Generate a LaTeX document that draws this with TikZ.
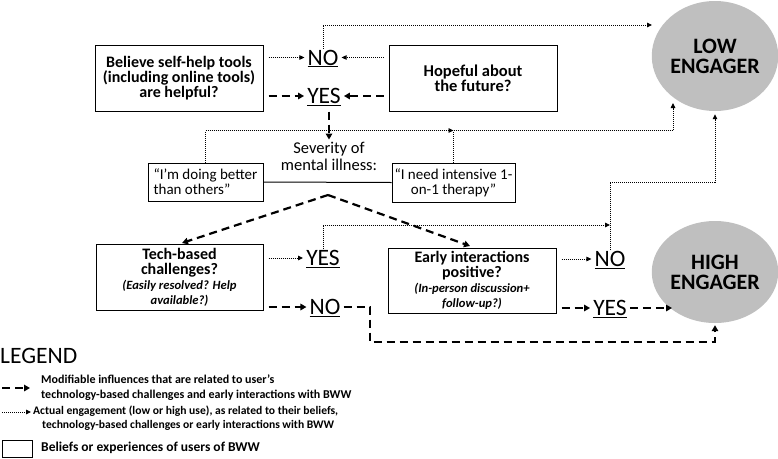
\documentclass[tikz,border=0pt]{standalone}
\usepackage{fontspec}
\setmainfont{Carlito}
\usetikzlibrary{arrows.meta,shapes.geometric}
\newcommand{\itf}{\bfseries\itshape\fontsize{12.6}{14}\selectfont}
\begin{document}
\begin{tikzpicture}[x=1pt,y=-1pt,
 box/.style={draw, line width=1pt, inner sep=0pt, align=center, font=\bfseries\fontsize{16}{15}\selectfont},
 qbox/.style={draw, line width=1pt, inner sep=0pt, font=\fontsize{15}{15}\selectfont},
 yn/.style={inner xsep=3pt, inner ysep=1pt, text height=15pt, text depth=0pt, font=\fontsize{23.5}{23.5}\selectfont},
 dsh/.style={line width=2.2pt, dash pattern=on 8pt off 5pt, -{Triangle[length=6pt,width=6.5pt]}},
 dot/.style={line width=0.9pt, dash pattern=on 1pt off 1pt, -{Triangle[length=5pt,width=4.5pt]}},
 eng/.style={ellipse, fill=gray!50, inner sep=0pt, align=center, font=\bfseries\fontsize{22}{20}\selectfont},
 leg/.style={anchor=west, align=left, inner sep=0pt, font=\bfseries\fontsize{12}{15}\selectfont}
]
\useasboundingbox (0,0) rectangle (778,458);

% boxes
\node[box, minimum width=168, minimum height=66] (believe) at (179,78) {Believe self-help tools\\(including online tools)\\are helpful?};
\node[box, minimum width=168, minimum height=66, font=\bfseries\fontsize{16.5}{13.5}\selectfont] (hope) at (473,78) {Hopeful about\\the future?};
\node[qbox, minimum width=115, minimum height=38, align=left] (better) at (205.5,182) {“I’m doing better\\than others”};
\node[qbox, minimum width=123, minimum height=39, align=center] (intensive) at (453.5,182.5) {“I need intensive 1-\\on-1 therapy”};
\node[font=\fontsize{16.5}{17}\selectfont, align=center, inner sep=2pt] (sev) at (329,156) {Severity of\\mental illness:};
\node[box, minimum width=167, minimum height=66] (tech) at (179.5,277) {Tech-based\\challenges?\\{\itf (Easily resolved? Help}\\{\itf available?)}};
\node[box, minimum width=168, minimum height=65] (early) at (472,280.5) {Early interactions\\positive?\\{\itf (In-person discussion+}\\{\itf follow-up?)}};

% engagers
\node[eng, minimum width=124, minimum height=110] (low) at (715,56) {LOW\\ENGAGER};
\node[eng, minimum width=124, minimum height=102] (high) at (715,272) {HIGH\\ENGAGER};

% yes / no
\node[yn] (no1) at (323,57.5) {\underline{NO}};
\node[yn] (yes1) at (324,96) {\underline{YES}};
\node[yn] (yes2) at (323,258) {\underline{YES}};
\node[yn] (no2) at (325,307) {\underline{NO}};
\node[yn] (no3) at (610,259) {\underline{NO}};
\node[yn] (yes3) at (610,308) {\underline{YES}};

% helper coordinates
\coordinate (lowin1) at (652,25);
\coordinate (lowin2) at (673,103);
\coordinate (j3) at (610,225);
\coordinate (j5) at (370,342);
\coordinate (highin) at (672,308);
\coordinate (apex) at (328,195);
\coordinate (techin) at (182,243);
\coordinate (earlyin) at (470,246);

% top row
\draw[dot, shorten <=5pt] (believe.east |- no1) -- (no1.west);
\draw[dot, shorten <=5pt] (hope.west |- no1) -- (no1.east);
\draw[dsh, shorten <=5pt] (believe.east |- yes1) -- (yes1.west);
\draw[dsh, shorten <=5pt] (hope.west |- yes1) -- (yes1.east);
\draw[dot] (no1.north) |- (lowin1);
\draw[dsh, shorten <=7pt] (sev.north |- yes1.south) -- (sev.north);

% severity
\draw[line width=1pt] (better.east) -- (intensive.west);
\draw[dot] (better.north) |- ([yshift=32pt]intensive.north);
\draw[dot] (intensive.north) -- ++(0,-32) -| (lowin2);
\draw[dsh] (apex) -- (techin);
\draw[dsh] (apex) -- (earlyin);

% tech
\draw[dot, shorten <=5pt] (tech.east |- yes2) -- (yes2.west);
\draw[dot] (yes2.north) |- (j3);
\draw[dsh, shorten <=5pt] (tech.east |- no2) -- (no2.west);
\draw[dsh, shorten >=2pt] (no2.east) -| (j5) -| (high.south);

% early
\draw[dot, shorten <=5pt] (early.east |- no3) -- (no3.west);
\draw[dot, shorten >=3pt] (no3.north) -- ++(0,-68) -| (low.south);
\draw[dsh, shorten <=5pt] (early.east |- yes3) -- (yes3.west);
\draw[dsh] (yes3.east) -- (highin);

% legend
\node[anchor=west, inner sep=0pt, font=\fontsize{23.5}{23.5}\selectfont] (legend) at (0,356) {LEGEND};
\coordinate (l1a) at (2,388);
\coordinate (l1b) at (30,388);
\draw[dsh] (l1a) -- (l1b);
\node[leg] (lt1) at (41,387.5) {Modifiable influences that are related to user’s\\technology-based challenges and early interactions with BWW};
\coordinate (l2a) at (2,412);
\coordinate (l2b) at (31,412);
\draw[dot] (l2a) -- (l2b);
\node[leg, font=\bfseries\fontsize{11.6}{14}\selectfont] (lt2) at (33,418.5) {Actual engagement (low or high use), as related to their beliefs,\\\hspace*{9pt}technology-based challenges or early interactions with BWW};
\node[draw, line width=1pt, minimum width=30, minimum height=17, inner sep=0pt] (lbox) at (17,448.5) {};
\node[leg, font=\bfseries\fontsize{13.5}{15}\selectfont] (lt3) at (41,448) {Beliefs or experiences of users of BWW};
\end{tikzpicture}
\end{document}
